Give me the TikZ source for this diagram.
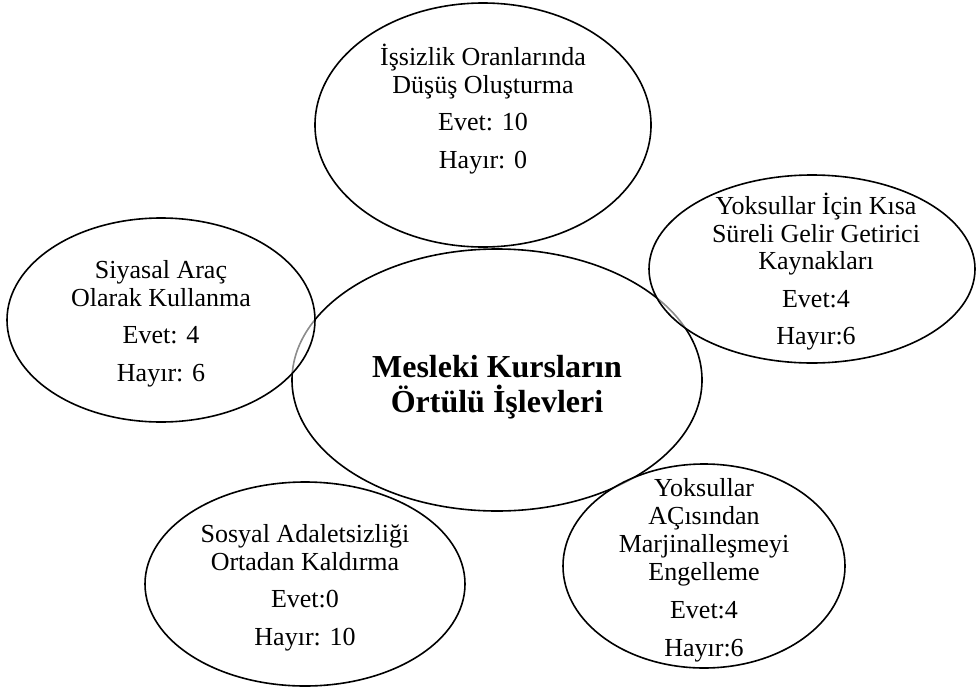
\documentclass[tikz,border=0pt]{standalone}
\usepackage{fontspec}
\setmainfont{Liberation Serif}
\usetikzlibrary{shapes.geometric}

\begin{document}
\begin{tikzpicture}[x=1pt, y=-1pt, line width=1.6pt,
  balon/.style={ellipse, draw, fill=white, fill opacity=0.55, inner sep=0pt},
  yazi/.style={align=center, inner sep=0pt, font=\fontsize{26}{27.5}\selectfont}]
\useasboundingbox (0,0) rectangle (976,688);
% Merkez
\node[ellipse, draw, inner sep=0pt, minimum width=410pt, minimum height=262pt] (merkez) at (497,380) {};

% Balonlar
\node[balon, minimum width=336pt, minimum height=244pt] (issizlik) at (483,125) {};
\node[balon, minimum width=308pt, minimum height=204pt] (siyasal) at (161,320) {};
\node[balon, minimum width=326pt, minimum height=188pt] (kisasureli) at (812,269) {};
\node[balon, minimum width=320pt, minimum height=204pt] (adalet) at (305,584) {};
\node[balon, minimum width=282pt, minimum height=204pt] (marjinal) at (704,566) {};

% Yazilar
\node[align=center, inner sep=0pt, font=\bfseries\fontsize{32}{35}\selectfont] (baslik) at (497,387) {Mesleki Kursların\\Örtülü İşlevleri};
\node[yazi] (issizlikyazi) at (issizlik.center) [yshift=16pt] {İşsizlik Oranlarında\\Düşüş Oluşturma\\[10pt] Evet: 10\\[10pt] Hayır: 0};
\node[yazi] (siyasalyazi) at (siyasal.center) [yshift=-4pt] {Siyasal Araç\\Olarak Kullanma\\[10pt] Evet: 4\\[10pt] Hayır: 6};
\node[yazi] (kisasureliyazi) at (kisasureli.center) [xshift=4pt, yshift=-3pt] {Yoksullar İçin Kısa\\Süreli Gelir Getirici\\Kaynakları\\[10pt] Evet:4\\[10pt] Hayır:6};
\node[yazi] (adaletyazi) at (adalet.center) [yshift=-4pt] {Sosyal Adaletsizliği\\Ortadan Kaldırma\\[10pt] Evet:0\\[10pt] Hayır: 10};
\node[yazi, font=\fontsize{26}{28}\selectfont] (marjinalyazi) at (marjinal.center) [yshift=-4pt] {Yoksullar\\AÇısından\\Marjinalleşmeyi\\Engelleme\\[10pt] Evet:4\\[10pt] Hayır:6};
\end{tikzpicture}
\end{document}
